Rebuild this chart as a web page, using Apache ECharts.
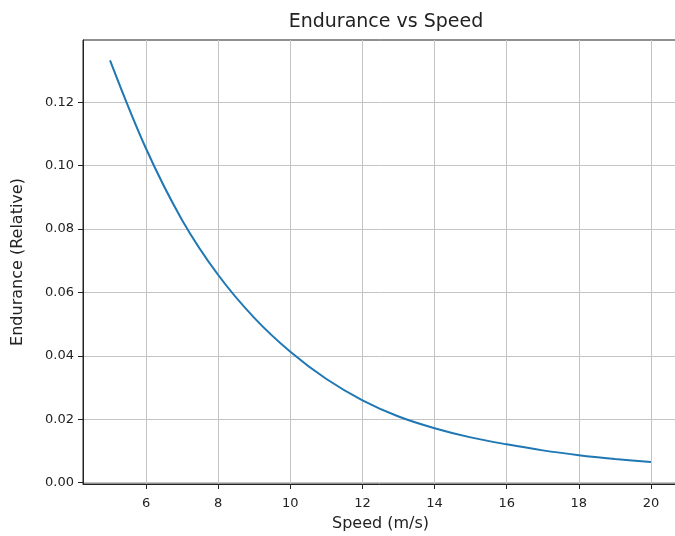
<!DOCTYPE html>
<html>
<head>
<meta charset="utf-8">
<script src="https://cdn.jsdelivr.net/npm/echarts@6/dist/echarts.min.js"></script>
<style>html,body{margin:0;padding:0;background:#fff}#c{width:675px;height:536px}</style>
</head>
<body>
<div id="c"></div>
<script>
const speeds = [5, 6, 7, 8, 9, 10, 11, 12, 13, 14, 15, 16, 17, 18, 19, 20];
const endurance = [0.1332, 0.1053, 0.0828, 0.0655, 0.0520, 0.0413, 0.0327, 0.0260, 0.0209, 0.0172, 0.0143, 0.0121, 0.0102, 0.0087, 0.0075, 0.0065];
const xTicks = [6, 8, 10, 12, 14, 16, 18, 20];
const yTicks = [0, 0.02, 0.04, 0.06, 0.08, 0.10, 0.12];

const font = 'DejaVu Sans';
const chart = echarts.init(document.getElementById('c'), null, {renderer: 'canvas'});
chart.setOption({
  animation: false,
  backgroundColor: '#ffffff',
  title: {
    text: 'Endurance vs Speed',
    left: 381, top: 8, textAlign: 'center',
    textStyle: {fontFamily: font, fontSize: 19, fontWeight: 'normal', color: '#222'}
  },
  grid: {
    left: 83, top: 40, width: 595, height: 444,
    outerBoundsMode: 'none', containLabel: false,
    show: true, borderColor: '#222', borderWidth: 1, backgroundColor: 'transparent'
  },
  xAxis: {
    type: 'value', min: 4.25, max: 20.75,
    name: 'Speed (m/s)', nameLocation: 'middle', nameGap: 32,
    nameTextStyle: {fontFamily: font, fontSize: 16, color: '#222'},
    axisLine: {show: true, onZero: false, lineStyle: {color: '#222', width: 1}},
    axisTick: {show: true, inside: false, length: 5, customValues: xTicks, lineStyle: {color: '#222'}},
    axisLabel: {customValues: xTicks, margin: 13, fontFamily: font, fontSize: 13, color: '#222',
      formatter: v => String(v)},
    splitLine: {show: true, lineStyle: {color: '#c4c4c4', width: 1}}
  },
  yAxis: {
    type: 'value', min: -0.0004, max: 0.1396,
    name: 'Endurance (Relative)', nameLocation: 'middle', nameGap: 57,
    nameTextStyle: {fontFamily: font, fontSize: 16, color: '#222'},
    axisLine: {show: true, onZero: false, lineStyle: {color: '#222', width: 1}},
    axisTick: {show: true, inside: false, length: 5, customValues: yTicks, lineStyle: {color: '#222'}},
    axisLabel: {customValues: yTicks, margin: 9, fontFamily: font, fontSize: 13, color: '#222',
      formatter: v => v.toFixed(2)},
    splitLine: {show: true, lineStyle: {color: '#c4c4c4', width: 1}}
  },
  series: [{
    type: 'line',
    data: speeds.map((s, i) => [s, endurance[i]]),
    smooth: 0.35,
    showSymbol: false,
    lineStyle: {color: '#1f77b4', width: 2},
    clip: false
  }]
});
</script>
</body>
</html>
